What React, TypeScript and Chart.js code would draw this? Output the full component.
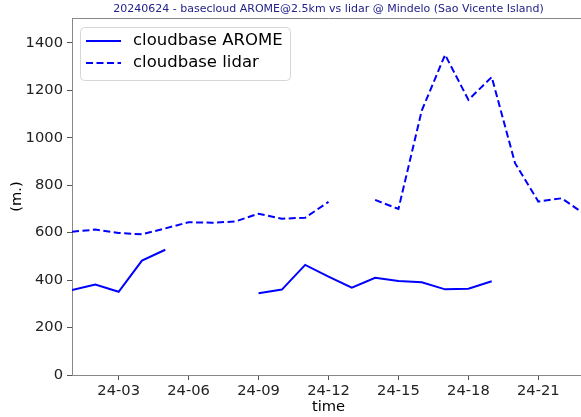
import React, { useEffect, useRef } from "react";
import { Chart, registerables } from "chart.js";

Chart.register(...registerables);

const hours = [1, 2, 3, 4, 5, 6, 7, 8, 9, 10, 11, 12, 13, 14, 15, 16, 17, 18, 19, 20, 21, 22, 23];
const aromeValues: (number | null)[] = [358, 381, 351, 482, 528, null, null, null, 345, 360, 464, 415, 368, 410, 396, 391, 361, 364, 395, null, null, null, null];
const lidarValues: (number | null)[] = [604, 613, 599, 593, 618, 644, 642, 647, 680, 659, 663, 730, null, 738, 700, 1115, 1350, 1160, 1256, 893, 731, 745, 677];
const tickHours = [3, 6, 9, 12, 15, 18, 21];
const tickLabels = ["24-03", "24-06", "24-09", "24-12", "24-15", "24-18", "24-21"];
const yTicks = [0, 200, 400, 600, 800, 1000, 1200, 1400];
const seriesNames = ["cloudbase AROME", "cloudbase lidar"];
const titleText = "20240624 - basecloud AROME@2.5km vs lidar @ Mindelo (Sao Vicente Island)";

const FONT = "'DejaVu Sans', sans-serif";
const BLUE = "#0000ff";
const DASH = [7, 3.5];

const decorPlugin = {
  id: "decor",
  afterDraw(chart: any) {
    const ctx = chart.ctx;
    const a = chart.chartArea;
    ctx.save();
    // top spine
    ctx.strokeStyle = "#888888";
    ctx.lineWidth = 1;
    ctx.beginPath();
    ctx.moveTo(a.left, a.top + 0.5);
    ctx.lineTo(a.right, a.top + 0.5);
    ctx.moveTo(a.right - 0.5, a.top);
    ctx.lineTo(a.right - 0.5, a.bottom);
    ctx.stroke();
    // title
    ctx.fillStyle = "#22228a";
    ctx.font = `11px ${FONT}`;
    ctx.textAlign = "center";
    ctx.textBaseline = "middle";
    ctx.fillText(titleText, (a.left + a.right) / 2, 9.5);
    // axis titles
    ctx.fillStyle = "#000";
    ctx.font = `14.7px ${FONT}`;
    ctx.fillText("time", (a.left + a.right) / 2, 407);
    ctx.save();
    ctx.translate(17, (a.top + a.bottom) / 2);
    ctx.rotate(-Math.PI / 2);
    ctx.fillText("(m.)", 0, 0);
    ctx.restore();
    // legend
    const lx = 80.5, ly = 27.5, lw = 210, lh = 53, r = 4;
    ctx.beginPath();
    ctx.moveTo(lx + r, ly);
    ctx.lineTo(lx + lw - r, ly);
    ctx.quadraticCurveTo(lx + lw, ly, lx + lw, ly + r);
    ctx.lineTo(lx + lw, ly + lh - r);
    ctx.quadraticCurveTo(lx + lw, ly + lh, lx + lw - r, ly + lh);
    ctx.lineTo(lx + r, ly + lh);
    ctx.quadraticCurveTo(lx, ly + lh, lx, ly + lh - r);
    ctx.lineTo(lx, ly + r);
    ctx.quadraticCurveTo(lx, ly, lx + r, ly);
    ctx.closePath();
    ctx.fillStyle = "rgba(255,255,255,0.8)";
    ctx.fill();
    ctx.strokeStyle = "#d6d6d6";
    ctx.lineWidth = 1;
    ctx.stroke();
    const rows = [41, 63];
    rows.forEach((yy, i) => {
      ctx.strokeStyle = BLUE;
      ctx.lineWidth = 2;
      ctx.setLineDash(i === 0 ? [] : DASH);
      ctx.beginPath();
      ctx.moveTo(86, yy);
      ctx.lineTo(121, yy);
      ctx.stroke();
      ctx.setLineDash([]);
      ctx.fillStyle = "#000";
      ctx.font = `16.5px ${FONT}`;
      ctx.textAlign = "left";
      ctx.textBaseline = "middle";
      ctx.fillText(seriesNames[i], 133, yy);
    });
    ctx.restore();
  },
};

export default function App() {
  const ref = useRef<HTMLCanvasElement | null>(null);
  useEffect(() => {
    if (!ref.current) return;
    const toPts = (vals: (number | null)[]) => hours.map((h, i) => ({ x: h, y: vals[i] }));
    const chart = new Chart(ref.current, {
      type: "line",
      data: {
        datasets: [
          {
            label: seriesNames[0],
            data: toPts(aromeValues) as any,
            borderColor: BLUE,
            borderWidth: 2,
            pointRadius: 0,
            spanGaps: false,
            tension: 0,
            fill: false,
          },
          {
            label: seriesNames[1],
            data: toPts(lidarValues) as any,
            borderColor: BLUE,
            borderWidth: 2,
            borderDash: DASH,
            pointRadius: 0,
            spanGaps: false,
            tension: 0,
            fill: false,
          },
        ],
      },
      options: {
        animation: false,
        responsive: false,
        devicePixelRatio: 1,
        layout: { padding: { top: 18, right: 3, left: 0, bottom: 0 } },
        plugins: { legend: { display: false }, title: { display: false }, tooltip: { enabled: false } },
        scales: {
          x: {
            type: "linear",
            min: 1,
            max: 23,
            afterBuildTicks: (scale: any) => {
              scale.ticks = tickHours.map((v) => ({ value: v }));
            },
            afterFit: (scale: any) => {
              scale.height = 42;
            },
            ticks: {
              autoSkip: false,
              maxRotation: 0,
              minRotation: 0,
              padding: 2,
              color: "#222",
              font: { family: FONT, size: 14.7 },
              callback: (v: any) => {
                const idx = tickHours.indexOf(Number(v));
                return idx >= 0 ? tickLabels[idx] : "";
              },
            },
            grid: { drawOnChartArea: false, tickLength: 5, tickColor: "#555", tickWidth: 1 },
            border: { color: "#888", width: 1 },
          },
          y: {
            type: "linear",
            min: 0,
            max: 1505,
            afterBuildTicks: (scale: any) => {
              scale.ticks = yTicks.map((v) => ({ value: v }));
            },
            afterFit: (scale: any) => {
              scale.width = 72;
            },
            ticks: {
              padding: 4,
              color: "#222",
              font: { family: FONT, size: 14.7 },
              callback: (v: any) => String(v),
            },
            grid: { drawOnChartArea: false, tickLength: 5, tickColor: "#555", tickWidth: 1 },
            border: { color: "#888", width: 1 },
          },
        },
      },
      plugins: [decorPlugin],
    });
    return () => chart.destroy();
  }, []);
  return (
    <div style={{ position: "fixed", left: 0, top: 0, width: 581, height: 417, overflow: "hidden", background: "#fff" }}>
      <canvas ref={ref} width={588} height={417} style={{ width: 588, height: 417, display: "block" }} />
    </div>
  );
}
